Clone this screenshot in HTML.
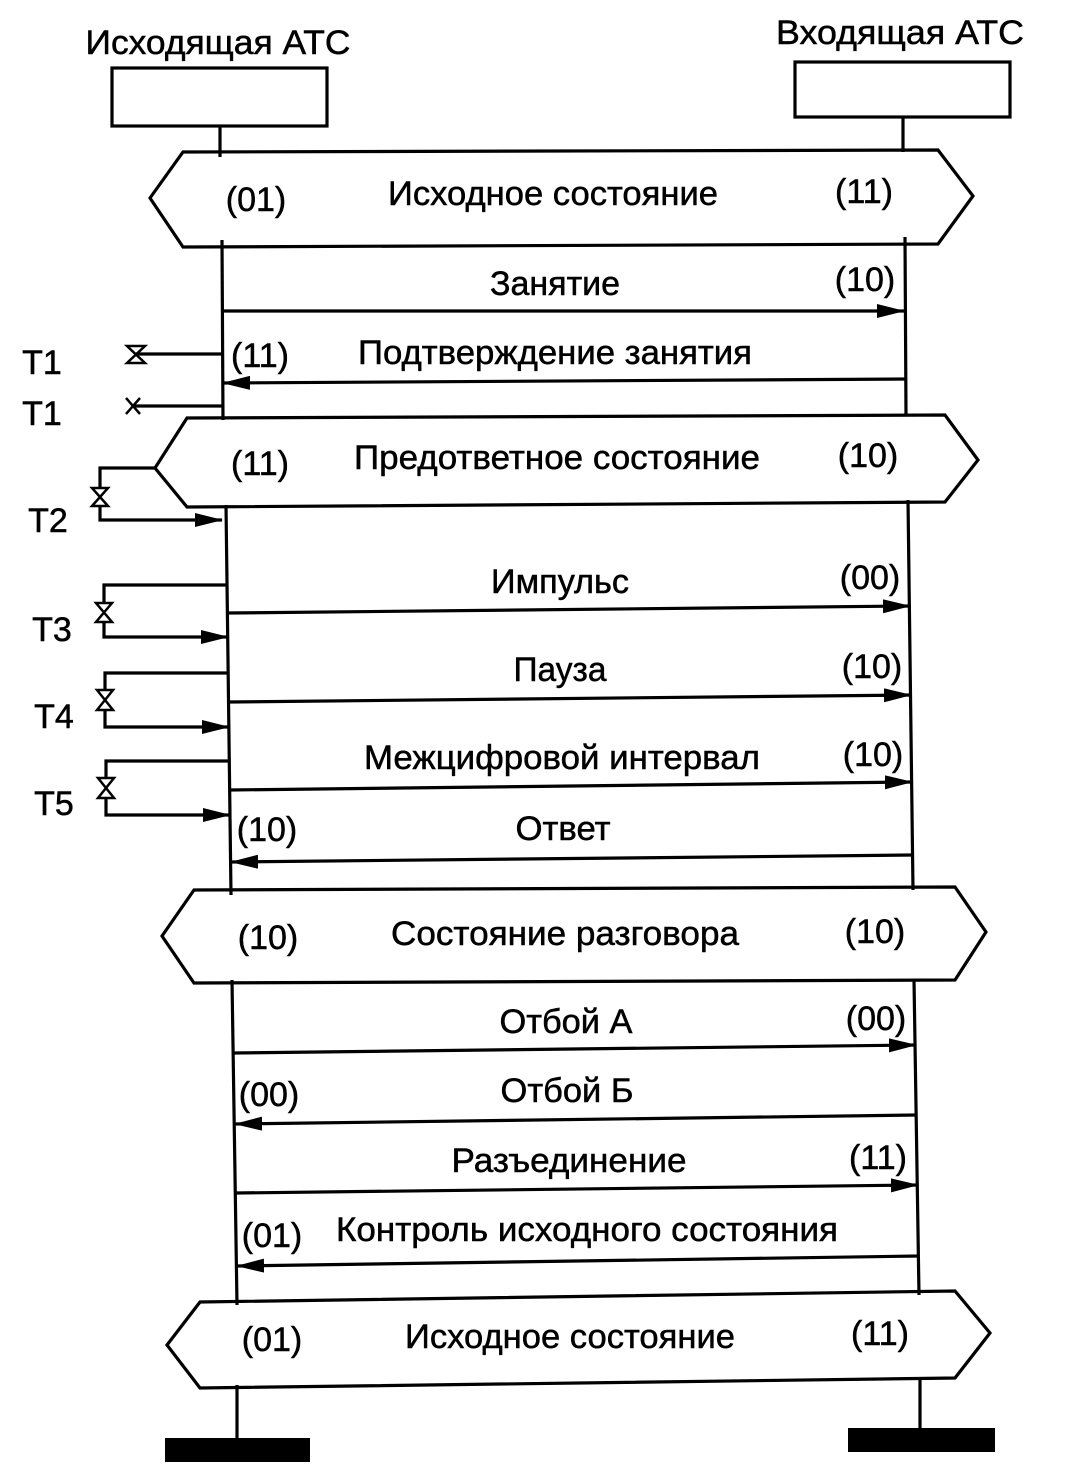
<!DOCTYPE html>
<html><head><meta charset="utf-8"><style>
html,body{margin:0;padding:0;background:#fff}
svg{display:block}
text{font-family:"Liberation Sans",sans-serif;font-size:34px;fill:#000;stroke:#000;stroke-width:0.5}
</style></head><body>
<svg width="1072" height="1468" viewBox="0 0 1072 1468" xmlns="http://www.w3.org/2000/svg">
<defs>
<marker id="a" markerWidth="28" markerHeight="14" refX="27" refY="7" orient="auto" markerUnits="userSpaceOnUse">
<path d="M0,0 L28,7 L0,14 Z" fill="#000"/></marker>
</defs>
<g stroke="#000" stroke-width="3.2" fill="none">
<rect x="112" y="68" width="215" height="58"/>
<rect x="795" y="62" width="215" height="55"/>
<line x1="220" y1="126" x2="220" y2="157"/>
<line x1="222" y1="240" x2="223" y2="420"/>
<line x1="226" y1="505" x2="231" y2="895"/>
<line x1="232" y1="980" x2="237" y2="1305"/>
<line x1="237" y1="1385" x2="237" y2="1440"/>
<line x1="903" y1="117" x2="903" y2="152"/>
<line x1="905" y1="237" x2="906" y2="415"/>
<line x1="908" y1="500" x2="913" y2="890"/>
<line x1="914" y1="980" x2="919" y2="1295"/>
<line x1="920" y1="1378" x2="920" y2="1430"/>
<polygon points="150,198 183,152 938,150 973,196 938,244 183,247"/>
<polygon points="155,468 187,418 945,415 978,460 945,502 187,507"/>
<polygon points="162,936 194,890 955,887 986,932 955,980 194,983"/>
<polygon points="167,1345 200,1302 955,1291 990,1333 955,1378 200,1388"/>
<line x1="222" y1="311" x2="904" y2="311" marker-end="url(#a)"/>
<line x1="906" y1="379" x2="223" y2="383" marker-end="url(#a)"/>
<line x1="228" y1="613" x2="910" y2="606" marker-end="url(#a)"/>
<line x1="229" y1="702" x2="911" y2="695" marker-end="url(#a)"/>
<line x1="230" y1="790" x2="912" y2="782" marker-end="url(#a)"/>
<line x1="913" y1="855" x2="231" y2="862" marker-end="url(#a)"/>
<line x1="234" y1="1053" x2="916" y2="1045" marker-end="url(#a)"/>
<line x1="917" y1="1115" x2="235" y2="1124" marker-end="url(#a)"/>
<line x1="236" y1="1193" x2="918" y2="1185" marker-end="url(#a)"/>
<line x1="919" y1="1256" x2="237" y2="1266" marker-end="url(#a)"/>
<line x1="222" y1="354" x2="136" y2="354"/>
<line x1="222" y1="406" x2="132" y2="406"/>
<path d="M127,346 L145,346 L127,363 L145,363 Z" stroke-width="2.5"/>
<path d="M126,398 L140,414 M140,398 L126,414" stroke-width="2.5"/>
<polyline points="155,468 100,468 100,488"/>
<polyline points="100,506 100,520 222,520" marker-end="url(#a)"/>
<path d="M92,488 L108,488 L92,506 L108,506 Z" stroke-width="2.5"/>
<polyline points="228,585 104,585 104,603"/>
<polyline points="104,622 104,637 228,637" marker-end="url(#a)"/>
<path d="M96,603 L112,603 L96,622 L112,622 Z" stroke-width="2.5"/>
<polyline points="229,673 105,673 105,690"/>
<polyline points="105,710 105,727 229,727" marker-end="url(#a)"/>
<path d="M97,690 L113,690 L97,710 L113,710 Z" stroke-width="2.5"/>
<polyline points="230,761 106,761 106,778"/>
<polyline points="106,798 106,815 230,815" marker-end="url(#a)"/>
<path d="M98,778 L114,778 L98,798 L114,798 Z" stroke-width="2.5"/>
</g>
<rect x="165" y="1438" width="145" height="24" fill="#000"/>
<rect x="848" y="1428" width="147" height="24" fill="#000"/>
<text x="218" y="54" text-anchor="middle" textLength="265" lengthAdjust="spacingAndGlyphs">Исходящая АТС</text>
<text x="900" y="44" text-anchor="middle" textLength="248" lengthAdjust="spacingAndGlyphs">Входящая АТС</text>
<text x="256" y="211" text-anchor="middle">(01)</text>
<text x="553" y="205" text-anchor="middle" textLength="330" lengthAdjust="spacingAndGlyphs">Исходное состояние</text>
<text x="864" y="203" text-anchor="middle">(11)</text>
<text x="555" y="295" text-anchor="middle" textLength="130" lengthAdjust="spacingAndGlyphs">Занятие</text>
<text x="865" y="291" text-anchor="middle">(10)</text>
<text x="260" y="367" text-anchor="middle">(11)</text>
<text x="555" y="364" text-anchor="middle" textLength="394" lengthAdjust="spacingAndGlyphs">Подтверждение занятия</text>
<text x="42" y="374" text-anchor="middle">T1</text>
<text x="42" y="425" text-anchor="middle">T1</text>
<text x="260" y="475" text-anchor="middle">(11)</text>
<text x="557" y="469" text-anchor="middle" textLength="406" lengthAdjust="spacingAndGlyphs">Предответное состояние</text>
<text x="868" y="467" text-anchor="middle">(10)</text>
<text x="48" y="532" text-anchor="middle">T2</text>
<text x="560" y="593" text-anchor="middle" textLength="138" lengthAdjust="spacingAndGlyphs">Импульс</text>
<text x="870" y="589" text-anchor="middle">(00)</text>
<text x="52" y="641" text-anchor="middle">T3</text>
<text x="560" y="681" text-anchor="middle" textLength="93" lengthAdjust="spacingAndGlyphs">Пауза</text>
<text x="872" y="678" text-anchor="middle">(10)</text>
<text x="54" y="728" text-anchor="middle">T4</text>
<text x="562" y="769" text-anchor="middle" textLength="396" lengthAdjust="spacingAndGlyphs">Межцифровой интервал</text>
<text x="873" y="766" text-anchor="middle">(10)</text>
<text x="54" y="815" text-anchor="middle">T5</text>
<text x="267" y="841" text-anchor="middle">(10)</text>
<text x="563" y="840" text-anchor="middle" textLength="95" lengthAdjust="spacingAndGlyphs">Ответ</text>
<text x="268" y="949" text-anchor="middle">(10)</text>
<text x="565" y="945" text-anchor="middle" textLength="348" lengthAdjust="spacingAndGlyphs">Состояние разговора</text>
<text x="875" y="943" text-anchor="middle">(10)</text>
<text x="566" y="1033" text-anchor="middle" textLength="133" lengthAdjust="spacingAndGlyphs">Отбой А</text>
<text x="876" y="1030" text-anchor="middle">(00)</text>
<text x="269" y="1106" text-anchor="middle">(00)</text>
<text x="567" y="1102" text-anchor="middle" textLength="133" lengthAdjust="spacingAndGlyphs">Отбой Б</text>
<text x="569" y="1172" text-anchor="middle" textLength="235" lengthAdjust="spacingAndGlyphs">Разъединение</text>
<text x="878" y="1169" text-anchor="middle">(11)</text>
<text x="272" y="1247" text-anchor="middle">(01)</text>
<text x="587" y="1241" text-anchor="middle" textLength="502" lengthAdjust="spacingAndGlyphs">Контроль исходного состояния</text>
<text x="272" y="1351" text-anchor="middle">(01)</text>
<text x="570" y="1348" text-anchor="middle" textLength="330" lengthAdjust="spacingAndGlyphs">Исходное состояние</text>
<text x="880" y="1345" text-anchor="middle">(11)</text>
</svg>
</body></html>
